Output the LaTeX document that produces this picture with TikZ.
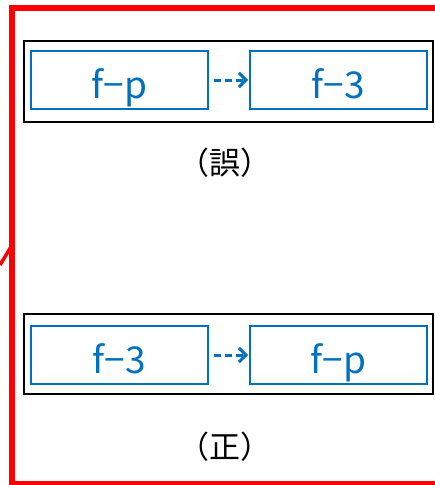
\documentclass[tikz,border=0pt]{standalone}
\usepackage{fontspec}
\newfontfamily\jp{Noto Sans CJK JP}
\usetikzlibrary{arrows.meta}
\definecolor{boxblue}{HTML}{0070C0}
\definecolor{framered}{HTML}{FF0000}
\tikzset{
  outerbox/.style={draw=black, line width=1.8pt, minimum width=409pt, minimum height=81pt, inner sep=0pt},
  bluebox/.style={draw=boxblue, line width=1.8pt, minimum width=177pt, minimum height=58pt, inner sep=0pt,
    text=boxblue, font=\jp\fontsize{37}{37}\selectfont, text height=36pt, text depth=0pt},
  dasharrow/.style={draw=boxblue, line width=3pt, dash pattern=on 7pt off 4pt,
    -{Straight Barb[length=7pt,width=14pt,line width=3pt]}, shorten <=5pt, shorten >=1pt},
  caption/.style={font=\jp\fontsize{31}{31}\selectfont, inner sep=0pt}
}
\begin{document}
\begin{tikzpicture}[x=1pt,y=-1pt]
\useasboundingbox (0,0) rectangle (435,485);
\clip (0,0) rectangle (435,485);
\draw[framered, line width=6pt] (11.5,7.5) rectangle (460,484);
\coordinate (d1) at (0,265);
\coordinate (d2) at (11.5,246);
\draw[framered, line width=3.5pt] (d1) -- (d2);
% top group
\node[outerbox] (o1) at (228.5,81.5) {};
\node[bluebox] (a1) at (119.5,80) {f−p};
\node[bluebox] (b1) at (338.5,80) {f−3};
\draw[dasharrow] (a1.east) -- (b1.west);
\node[caption] (c1) at (225,163) {（誤）};
% bottom group
\node[outerbox, minimum height=80pt] (o2) at (228.5,354) {};
\node[bluebox] (a2) at (119.5,355) {f−3};
\node[bluebox] (b2) at (338.5,355) {f−p};
\draw[dasharrow] (a2.east) -- (b2.west);
\node[caption] (c2) at (225,447) {（正）};
\end{tikzpicture}
\end{document}
